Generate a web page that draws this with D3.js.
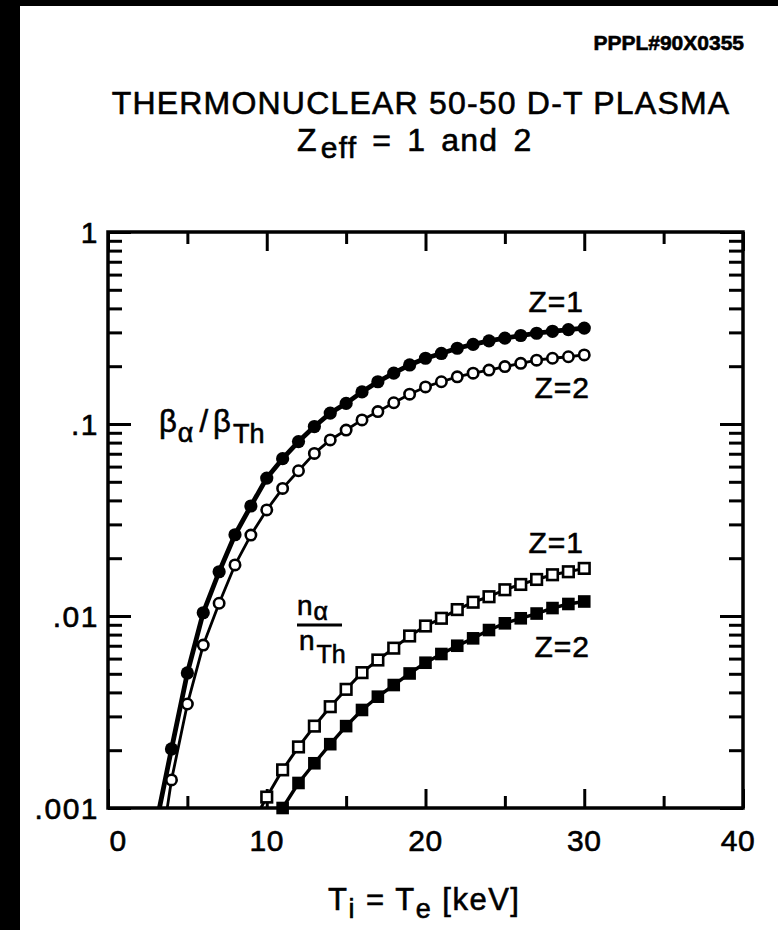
<!DOCTYPE html>
<html>
<head>
<meta charset="utf-8">
<script src="https://cdn.jsdelivr.net/npm/d3@7"></script>
<style>
  html, body { margin: 0; padding: 0; background: #fff; }
  svg { display: block; }
  text { font-family: "Liberation Sans", Arial, Helvetica, sans-serif; fill: #000; stroke: #000; stroke-width: 0.6; }
</style>
</head>
<body>
<svg id="chart" width="778" height="930"></svg>
<script>
// Temperature grid (keV) for the alpha-pressure curves
const tempBeta = [3, 4, 5, 6, 7, 8, 9, 10, 11, 12, 13, 14, 15, 16, 17, 18, 19, 20,
                  21, 22, 23, 24, 25, 26, 27, 28, 29, 30];
// beta_alpha / beta_Th, Zeff = 1 (filled circles)
const betaZ1 = [0.0008, 0.00203, 0.00505, 0.0104, 0.0170, 0.0265, 0.0374, 0.0523, 0.066, 0.081,
                0.097, 0.114, 0.128, 0.147, 0.166, 0.184, 0.203, 0.220, 0.233, 0.248,
                0.260, 0.271, 0.280, 0.289, 0.297, 0.304, 0.310, 0.316];
// beta_alpha / beta_Th, Zeff = 2 (open circles)
const betaZ2 = [0.0004, 0.0014, 0.00348, 0.00706, 0.01165, 0.01845, 0.0264, 0.0357, 0.0462, 0.0571,
                0.0703, 0.0826, 0.093, 0.105, 0.116, 0.129, 0.143, 0.156, 0.166, 0.176,
                0.184, 0.191, 0.199, 0.207, 0.215, 0.220, 0.224, 0.229];

// Temperature grid (keV) for the alpha-density curves
const tempDensZ1 = [9, 10, 11, 12, 13, 14, 15, 16, 17, 18, 19, 20, 21, 22, 23, 24, 25, 26, 27, 28, 29, 30];
// n_alpha / n_Th, Zeff = 1 (open squares)
const densZ1 = [0.00080, 0.00114, 0.00158, 0.00208, 0.00267, 0.00337, 0.00415, 0.00507, 0.0059, 0.0068,
                0.00787, 0.00887, 0.00973, 0.0108, 0.0118, 0.0126, 0.0137, 0.0146, 0.0155, 0.0164,
                0.0170, 0.0177];
const tempDensZ2 = [11, 12, 13, 14, 15, 16, 17, 18, 19, 20, 21, 22, 23, 24, 25, 26, 27, 28, 29, 30];
// n_alpha / n_Th, Zeff = 2 (filled squares)
const densZ2 = [0.00100, 0.00135, 0.00171, 0.00215, 0.00267, 0.00324, 0.0038, 0.00437, 0.00502, 0.00571,
                0.00634, 0.0070, 0.00765, 0.00845, 0.00916, 0.00973, 0.0103, 0.0110, 0.01155, 0.0119];

// Axis ticks
const xMajorTicks = [0, 10, 20, 30, 40];
const xMinorTicks = [5, 15, 25, 35];
const yMajorTicks = [0.001, 0.01, 0.1, 1];
const yTickLabels = [".001", ".01", ".1", "1"];

const svg = d3.select("#chart");
const W = 778, H = 930;
const plot = { left: 108, right: 743, top: 232, bottom: 808 };

const x = d3.scaleLinear().domain([0, 40]).range([plot.left, plot.right]);
const y = d3.scaleLog().domain([0.001, 1]).range([plot.bottom, plot.top]);

svg.append("rect").attr("width", W).attr("height", H).attr("fill", "#fff");

// Scanner edge
svg.append("rect").attr("x", 0).attr("y", 0).attr("width", 20).attr("height", H).attr("fill", "#000");
svg.append("rect").attr("x", 0).attr("y", 0).attr("width", W).attr("height", 6).attr("fill", "#000");

// Header texts
svg.append("text").attr("x", 744).attr("y", 50).attr("text-anchor", "end")
  .attr("font-size", 21).attr("font-weight", "bold").text("PPPL#90X0355");

svg.append("text").attr("x", 421).attr("y", 114).attr("text-anchor", "middle")
  .attr("font-size", 32).attr("letter-spacing", 1.2).text("THERMONUCLEAR 50-50 D-T PLASMA");

const t2 = svg.append("text").attr("x", 297).attr("y", 151).attr("font-size", 32)
  .attr("letter-spacing", 1.2).attr("word-spacing", 5);
t2.append("tspan").text("Z");
t2.append("tspan").attr("dx", 3).attr("dy", 7).attr("font-size", 30).text("eff");
t2.append("tspan").attr("dy", -7).text(" = 1 and 2");

// Minor decade positions for the log axis
const yMinorTicks = [];
yMajorTicks.slice(0, 3).forEach(d => { for (let k = 2; k <= 9; k++) yMinorTicks.push(d * k); });

// Axes with inward ticks
function styleAxis(g) {
  g.select(".domain").remove();
  g.selectAll(".tick line").attr("stroke", "#000").attr("stroke-width", 3);
  g.selectAll(".tick text").remove();
}
svg.append("g").attr("transform", `translate(${plot.left},0)`)
  .call(d3.axisLeft(y).tickValues(yMajorTicks).tickSize(-23)).call(styleAxis);
svg.append("g").attr("transform", `translate(${plot.left},0)`)
  .call(d3.axisLeft(y).tickValues(yMinorTicks).tickSize(-14)).call(styleAxis);
svg.append("g").attr("transform", `translate(${plot.right},0)`)
  .call(d3.axisRight(y).tickValues(yMajorTicks).tickSize(-23)).call(styleAxis);
svg.append("g").attr("transform", `translate(${plot.right},0)`)
  .call(d3.axisRight(y).tickValues(yMinorTicks).tickSize(-14)).call(styleAxis);
svg.append("g").attr("transform", `translate(0,${plot.bottom})`)
  .call(d3.axisBottom(x).tickValues(xMajorTicks).tickSize(-19)).call(styleAxis);
svg.append("g").attr("transform", `translate(0,${plot.bottom})`)
  .call(d3.axisBottom(x).tickValues(xMinorTicks).tickSize(-12)).call(styleAxis);
svg.append("g").attr("transform", `translate(0,${plot.top})`)
  .call(d3.axisTop(x).tickValues(xMajorTicks).tickSize(-19)).call(styleAxis);
svg.append("g").attr("transform", `translate(0,${plot.top})`)
  .call(d3.axisTop(x).tickValues(xMinorTicks).tickSize(-12)).call(styleAxis);

// Frame
svg.append("rect").attr("x", plot.left).attr("y", plot.top)
  .attr("width", plot.right - plot.left).attr("height", plot.bottom - plot.top)
  .attr("fill", "none").attr("stroke", "#000").attr("stroke-width", 3.5);

// Tick labels
svg.append("g").selectAll("text").data(yMajorTicks).join("text")
  .attr("x", 99).attr("y", d => y(d) + 11).attr("text-anchor", "end")
  .attr("font-size", 30).attr("letter-spacing", 1.5).text((d, i) => yTickLabels[i]);
const xLabelShift = { 0: 10, 40: -5 };
svg.append("g").selectAll("text").data(xMajorTicks).join("text")
  .attr("x", d => x(d) + (xLabelShift[d] || 0)).attr("y", 851).attr("text-anchor", "middle")
  .attr("font-size", 30).attr("letter-spacing", 0.5).text(d => d);

// Axis title
const xt = svg.append("text").attr("x", 328).attr("y", 910).attr("font-size", 31)
  .attr("letter-spacing", 1.5);
xt.append("tspan").text("T");
xt.append("tspan").attr("dy", 8).attr("font-size", 27).text("i");
xt.append("tspan").attr("dy", -8).text(" = T");
xt.append("tspan").attr("dy", 8).attr("font-size", 27).text("e");
xt.append("tspan").attr("dy", -8).text(" [keV]");

// Data
svg.append("clipPath").attr("id", "plotClip").append("rect")
  .attr("x", plot.left).attr("y", plot.top)
  .attr("width", plot.right - plot.left).attr("height", plot.bottom - plot.top);

const line = d3.line().x(d => x(d[0])).y(d => y(d[1]));
const zip = (ts, vs) => ts.map((t, i) => [t, vs[i]]);
const visible = pts => pts.filter(p => p[1] >= 0.00099);

const series = [
  { pts: zip(tempBeta, betaZ1), width: 4.8, marker: "dotFilled" },
  { pts: zip(tempBeta, betaZ2), width: 2.8, marker: "dotOpen" },
  { pts: zip(tempDensZ1, densZ1), width: 3, marker: "squareOpen" },
  { pts: zip(tempDensZ2, densZ2), width: 3.4, marker: "squareFilled" }
];

const dataG = svg.append("g");
series.forEach(s => {
  dataG.append("path").datum(s.pts).attr("clip-path", "url(#plotClip)")
    .attr("d", line).attr("fill", "none").attr("stroke", "#000")
    .attr("stroke-width", s.width).attr("stroke-linejoin", "round");
  const pts = visible(s.pts);
  const g = dataG.append("g");
  if (s.marker === "dotFilled") {
    g.selectAll("circle").data(pts).join("circle")
      .attr("cx", d => x(d[0])).attr("cy", d => y(d[1])).attr("r", 6.6).attr("fill", "#000");
  } else if (s.marker === "dotOpen") {
    g.selectAll("circle").data(pts).join("circle")
      .attr("cx", d => x(d[0])).attr("cy", d => y(d[1])).attr("r", 5.2)
      .attr("fill", "#fff").attr("stroke", "#000").attr("stroke-width", 2.6);
  } else if (s.marker === "squareOpen") {
    g.selectAll("rect").data(pts).join("rect")
      .attr("x", d => x(d[0]) - 5.3).attr("y", d => y(d[1]) - 5.3).attr("width", 10.6).attr("height", 10.6)
      .attr("fill", "#fff").attr("stroke", "#000").attr("stroke-width", 2.6);
  } else {
    g.selectAll("rect").data(pts).join("rect")
      .attr("x", d => x(d[0]) - 6.3).attr("y", d => y(d[1]) - 6.3).attr("width", 12.6).attr("height", 12.6)
      .attr("fill", "#000");
  }
});

// Curve labels
function label(px, py, txt) {
  svg.append("text").attr("x", px).attr("y", py).attr("text-anchor", "end")
    .attr("font-size", 30).attr("letter-spacing", 1).text(txt);
}
label(584, 312, "Z=1");
label(590, 398, "Z=2");
label(584, 553, "Z=1");
label(590, 657, "Z=2");

// beta_alpha / beta_Th
const bt = svg.append("text").attr("x", 159).attr("y", 432).attr("font-size", 31);
bt.append("tspan").text("β");
bt.append("tspan").attr("dx", 1).attr("dy", 10).attr("font-size", 27).text("α");
bt.append("tspan").attr("dx", 6).attr("dy", -10).text("/");
bt.append("tspan").attr("dx", 5).text("β");
bt.append("tspan").attr("dx", 2).attr("dy", 11).attr("font-size", 27).text("Th");

// n_alpha / n_Th as a stacked fraction
const nt = svg.append("text").attr("x", 297).attr("y", 615).attr("font-size", 28);
nt.append("tspan").text("n");
nt.append("tspan").attr("dx", 1).attr("dy", 5).attr("font-size", 25).text("α");
svg.append("line").attr("x1", 297).attr("x2", 342).attr("y1", 625).attr("y2", 625)
  .attr("stroke", "#000").attr("stroke-width", 2.8);
const nb = svg.append("text").attr("x", 299).attr("y", 650).attr("font-size", 28);
nb.append("tspan").text("n");
nb.append("tspan").attr("dx", 2).attr("dy", 13).attr("font-size", 25).text("Th");
</script>
</body>
</html>
